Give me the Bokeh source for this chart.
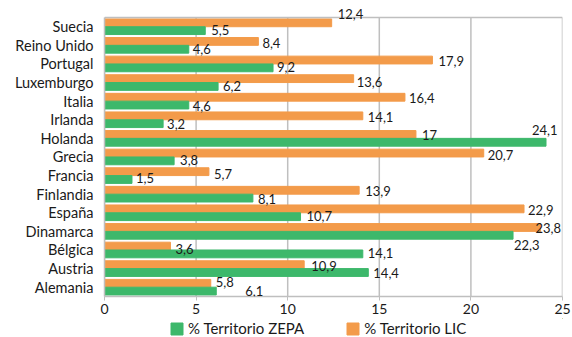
from bokeh.plotting import figure
from bokeh.layouts import column
from bokeh.models import (ColumnDataSource, Legend, LegendItem, Range1d, Span,
                          FixedTicker, LabelSet)
from bokeh.transform import dodge
from bokeh.core.properties import value
from bokeh.embed import file_html
from bokeh.resources import INLINE

paises = ["Suecia", "Reino Unido", "Portugal", "Luxemburgo", "Italia", "Irlanda",
          "Holanda", "Grecia", "Francia", "Finlandia", "España", "Dinamarca",
          "Bélgica", "Austria", "Alemania"]
zepa = [5.5, 4.6, 9.2, 6.2, 4.6, 3.2, 24.1, 3.8, 1.5, 8.1, 10.7, 22.3, 14.1, 14.4, 6.1]
lic = [12.4, 8.4, 17.9, 13.6, 16.4, 14.1, 17, 20.7, 5.7, 13.9, 22.9, 23.8, 3.6, 10.9, 5.8]
x_ticks = [0, 5, 10, 15, 20, 25]
series = ["% Territorio ZEPA", "% Territorio LIC"]

# data-label nudges in screen pixels (dx to the right, dy downwards), as placed in the original
lic_dx = [6, 4, 6, 3, 4, 5, 6, 4, 5, 6, 4, -5, 5, 7, 5]
lic_dy = [-9, 2, 1, 3, 1, 1, 1, 2, 2, 1, 1, 1, 3, 1, -1]
zepa_dx = [6, 4, 4, 5, 4, 4, -14, 6, 4, 5, 6, 1, 5, 5, 29]
zepa_dy = [-1, 0, -1, 0, 1, 0, -12, -1, -1, 1, -1, 10, -1, 0, 0]

def fmt(v):
    s = ("%.1f" % v).rstrip("0").rstrip(".")
    return s.replace(".", ",")

n = len(paises)
pos = [n - 1 - i for i in range(n)]   # first country at the top

src = ColumnDataSource(dict(
    pais=paises, pos=pos, zepa=zepa, lic=lic,
    zepa_t=[fmt(v) for v in zepa], lic_t=[fmt(v) for v in lic],
    lic_dx=lic_dx, lic_dy=[-d for d in lic_dy],
    zepa_dx=zepa_dx, zepa_dy=[-d for d in zepa_dy],
))

GREEN = "#3db86b"
ORANGE = "#f39b4a"
GRID = "#bfbfbf"
FONT = "Lato"
TXT = "#1a1a1a"

top = n - 0.5
p = figure(width=572, height=318, output_backend="svg", toolbar_location=None,
           y_range=Range1d(-0.5, top + 0.48), x_range=Range1d(0, 25),
           min_border_left=104, min_border_right=10, min_border_top=8, min_border_bottom=22)

# frame: grid lines and top border only over the category rows
p.segment(x0=x_ticks, y0=[-0.5] * len(x_ticks), x1=x_ticks, y1=[top] * len(x_ticks),
          line_color=GRID, line_width=1.5)
p.add_layout(Span(location=top, dimension="width", line_color=GRID, line_width=1.5))

r_lic = p.hbar(y=dodge("pos", 0.21), right="lic", left=0, height=0.42,
               color=ORANGE, source=src)
r_zepa = p.hbar(y=dodge("pos", -0.21), right="zepa", left=0, height=0.42,
                color=GREEN, source=src)

lab_lic = LabelSet(x="lic", y=dodge("pos", 0.21), text="lic_t", source=src,
                   x_offset="lic_dx", y_offset="lic_dy", text_baseline="middle",
                   text_font=value(FONT), text_font_size="13px", text_color=TXT)
lab_zepa = LabelSet(x="zepa", y=dodge("pos", -0.21), text="zepa_t", source=src,
                    x_offset="zepa_dx", y_offset="zepa_dy", text_baseline="middle",
                    text_font=value(FONT), text_font_size="13px", text_color=TXT)
p.add_layout(lab_lic)
p.add_layout(lab_zepa)

p.xaxis.ticker = FixedTicker(ticks=x_ticks)
p.xaxis.minor_tick_line_color = None
p.xaxis.major_tick_in = 0
p.xaxis.major_tick_out = 4
p.xaxis.major_tick_line_color = GRID
p.xaxis.axis_line_color = GRID
p.xaxis.axis_line_width = 1.5
p.xaxis.major_label_text_font = FONT
p.xaxis.major_label_text_font_size = "14px"
p.xaxis.major_label_text_color = TXT
p.xaxis.major_label_standoff = 3

p.yaxis.ticker = FixedTicker(ticks=pos)
p.yaxis.major_label_overrides = {k: v for k, v in zip(pos, paises)}
p.yaxis.bounds = (-0.5, top)
p.yaxis.major_tick_line_color = None
p.yaxis.minor_tick_line_color = None
p.yaxis.axis_line_color = GRID
p.yaxis.axis_line_width = 1.5
p.yaxis.major_label_text_font = FONT
p.yaxis.major_label_text_font_size = "14.5px"
p.yaxis.major_label_text_color = TXT
p.yaxis.major_label_standoff = 5

p.xgrid.grid_line_color = None
p.ygrid.grid_line_color = None
p.outline_line_color = None

# legend strip (its frame is aligned with the chart's frame by the column layout)
lg = figure(width=572, height=19, output_backend="svg", toolbar_location=None,
            x_range=Range1d(0, 1), y_range=Range1d(0, 1),
            x_axis_type=None, y_axis_type=None,
            min_border_left=104, min_border_right=10, min_border_top=0, min_border_bottom=0)
lg.outline_line_color = None
lg.xgrid.visible = False
lg.ygrid.visible = False
# legend proxies, placed outside the strip's visible ranges
d_z = lg.hbar(y=[10], left=[5], right=[6], height=0.5, color=GREEN)
d_l = lg.hbar(y=[10], left=[5], right=[6], height=0.5, color=ORANGE)
legend = Legend(items=[LegendItem(label=series[0], renderers=[d_z]),
                       LegendItem(label=series[1], renderers=[d_l])],
                orientation="horizontal", location=(65, 0),
                glyph_width=15, glyph_height=15, label_text_font=FONT,
                label_text_font_size="15px", label_text_color=TXT,
                spacing=41, padding=0, margin=0, label_standoff=4,
                background_fill_alpha=0, border_line_color=None, label_height=15)
lg.add_layout(legend, "center")

open("out.html", "w").write(file_html(column(p, lg, spacing=0), INLINE))
